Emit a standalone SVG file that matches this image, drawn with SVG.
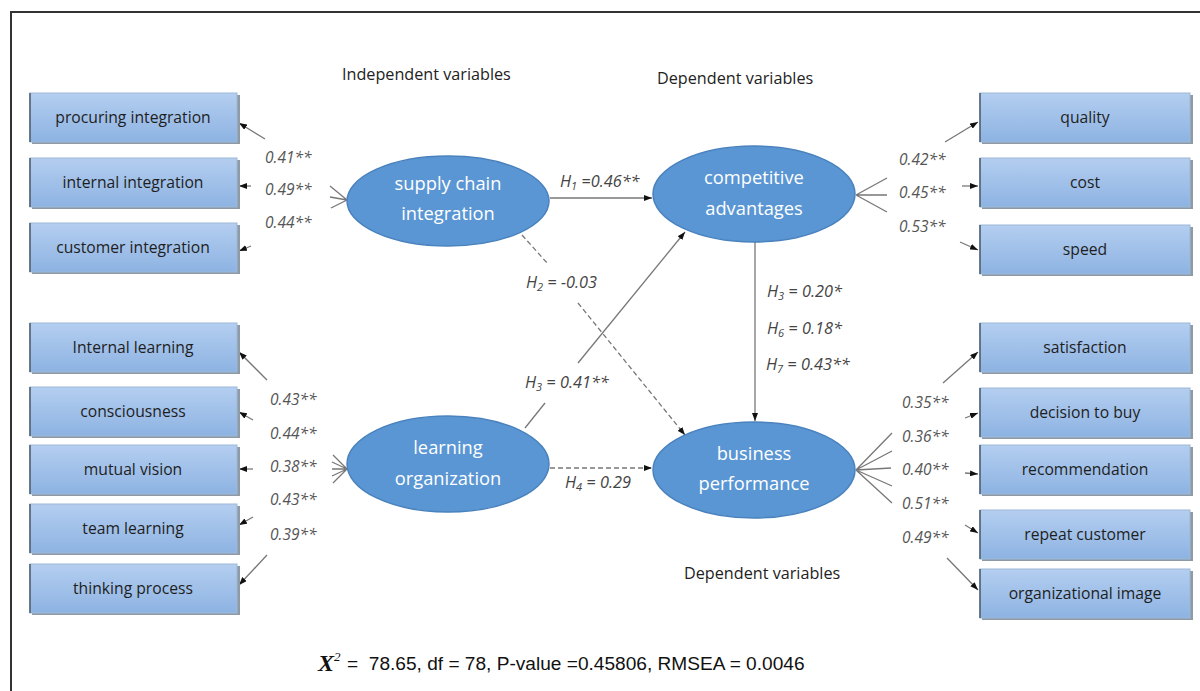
<svg xmlns="http://www.w3.org/2000/svg" width="1200" height="691" viewBox="0 0 1200 691">
<defs>
<linearGradient id="boxg" x1="0" y1="0" x2="0" y2="1">
<stop offset="0" stop-color="#b4cef0"/>
<stop offset="1" stop-color="#8db3e2"/>
</linearGradient>
<marker id="ah" markerUnits="userSpaceOnUse" markerWidth="8" markerHeight="6" refX="8" refY="3" orient="auto">
<path d="M0,0 L8,3 L0,6 z" fill="#111"/>
</marker>
<style>
.box{fill:url(#boxg);stroke:#9db8d8;stroke-width:1}
.edge{stroke:#4a5a6a;stroke-width:1.5}
.shadow{fill:#8e9aa6}
.bt{font-family:"Open Sans","Noto Sans",sans-serif;font-size:15.7px;fill:#1e1e1e;text-anchor:middle}
.ell{fill:#5a96d3;stroke:#4a82bd;stroke-width:1.5}
.et{font-family:"Open Sans","Noto Sans",sans-serif;font-size:18.3px;fill:#ffffff;text-anchor:middle}
.ln{stroke:#777;stroke-width:1.3;fill:none}
.arr{stroke:#777;stroke-width:1.3;fill:none;marker-end:url(#ah)}
.dash{stroke-dasharray:5,3}
.lab{font-family:"Open Sans","Noto Sans",sans-serif;font-size:15.5px;font-style:italic;fill:#555}
.hl{font-family:"Open Sans","Noto Sans",sans-serif;font-size:16.3px;font-style:italic;fill:#444}
.hd{font-family:"Open Sans","Noto Sans",sans-serif;font-size:16.2px;fill:#222}
</style>
</defs>
<rect width="1200" height="691" fill="#ffffff"/>
<path d="M11,691 L11,12 L1200,12" fill="none" stroke="#333" stroke-width="2"/>

<text class="hd" x="342" y="80">Independent variables</text>
<text class="hd" x="657" y="84">Dependent variables</text>
<text class="hd" x="684" y="579">Dependent variables</text>

<g id="connectors">
<path class="ln" d="M347,200 L330,186 M347,200 L330,197 M347,200 L331,208"/>
<path class="arr" d="M265,139 L239,123"/>
<path class="arr" d="M251,186 L239,186"/>
<path class="arr" d="M251,246 L239,251"/>
<path class="ln" d="M347,469 L333,455 M347,469 L332,462 M347,469 L332,469 M347,469 L332,476 M347,469 L333,483"/>
<path class="arr" d="M267,380 L239,352"/>
<path class="arr" d="M253,420 L239,412"/>
<path class="arr" d="M253,469 L239,469"/>
<path class="arr" d="M253,517 L239,525"/>
<path class="arr" d="M267,555 L239,585"/>
<path class="ln" d="M856,195 L887,178 M856,195 L887,195 M856,195 L887,212"/>
<path class="arr" d="M945,142 L978,122"/>
<path class="arr" d="M962,186 L978,186"/>
<path class="arr" d="M960,242 L978,250"/>
<path class="ln" d="M856,470 L892,433 M856,470 L892,451 M856,470 L891,468 M856,470 L892,486 M856,470 L892,503"/>
<path class="arr" d="M943,383 L978,352"/>
<path class="arr" d="M965,418 L978,413"/>
<path class="arr" d="M965,473 L978,474"/>
<path class="arr" d="M965,525 L978,533"/>
<path class="arr" d="M947,558 L978,590"/>
<path class="arr" d="M550,198 L652,198"/>
<path class="ln dash" d="M522,235 L548,264"/>
<path class="arr dash" d="M578,303 L685,435"/>
<path class="ln" d="M525,428 L545,403"/>
<path class="arr" d="M578,363 L685,232"/>
<path class="arr dash" d="M550,468 L652,468"/>
<path class="arr" d="M755,242 L755,421"/>
</g>

<g id="loadings">
<text class="lab" x="265" y="163">0.41**</text>
<text class="lab" x="265" y="195">0.49**</text>
<text class="lab" x="265" y="228">0.44**</text>
<text class="lab" x="270" y="405">0.43**</text>
<text class="lab" x="270" y="439">0.44**</text>
<text class="lab" x="270" y="472">0.38**</text>
<text class="lab" x="270" y="505">0.43**</text>
<text class="lab" x="270" y="540">0.39**</text>
<text class="lab" x="899" y="165">0.42**</text>
<text class="lab" x="899" y="198">0.45**</text>
<text class="lab" x="899" y="232">0.53**</text>
<text class="lab" x="902" y="408">0.35**</text>
<text class="lab" x="902" y="442">0.36**</text>
<text class="lab" x="902" y="475">0.40**</text>
<text class="lab" x="902" y="509">0.51**</text>
<text class="lab" x="902" y="543">0.49**</text>
</g>

<g id="hyp">
<text class="hl" x="560" y="187">H<tspan font-size="11" dy="3">1</tspan><tspan dy="-3"> =0.46**</tspan></text>
<text class="hl" x="526" y="288">H<tspan font-size="11" dy="3">2</tspan><tspan dy="-3"> = -0.03</tspan></text>
<text class="hl" x="525" y="388">H<tspan font-size="11" dy="3">3</tspan><tspan dy="-3"> = 0.41**</tspan></text>
<text class="hl" x="565" y="488">H<tspan font-size="11" dy="3">4</tspan><tspan dy="-3"> = 0.29</tspan></text>
<text class="hl" x="767" y="297">H<tspan font-size="11" dy="3">3</tspan><tspan dy="-3"> = 0.20*</tspan></text>
<text class="hl" x="767" y="334">H<tspan font-size="11" dy="3">6</tspan><tspan dy="-3"> = 0.18*</tspan></text>
<text class="hl" x="766" y="370">H<tspan font-size="11" dy="3">7</tspan><tspan dy="-3"> = 0.43**</tspan></text>
</g>

<g id="n-procuring"><rect class="shadow" x="32" y="95" width="208" height="49"/><rect class="box" x="30" y="93" width="207" height="49"/><line class="edge" x1="30" y1="93" x2="30" y2="142"/><text class="bt" x="133" y="123">procuring integration</text></g>
<g id="n-internal"><rect class="shadow" x="32" y="160" width="208" height="49"/><rect class="box" x="30" y="158" width="207" height="49"/><line class="edge" x1="30" y1="158" x2="30" y2="207"/><text class="bt" x="133" y="188">internal integration</text></g>
<g id="n-customer"><rect class="shadow" x="32" y="225" width="208" height="49"/><rect class="box" x="30" y="223" width="207" height="49"/><line class="edge" x1="30" y1="223" x2="30" y2="272"/><text class="bt" x="133" y="253">customer integration</text></g>
<g id="n-internal-learning"><rect class="shadow" x="32" y="325" width="208" height="49"/><rect class="box" x="30" y="323" width="207" height="49"/><line class="edge" x1="30" y1="323" x2="30" y2="372"/><text class="bt" x="133" y="353">Internal learning</text></g>
<g id="n-consciousness"><rect class="shadow" x="32" y="389" width="208" height="49"/><rect class="box" x="30" y="387" width="207" height="49"/><line class="edge" x1="30" y1="387" x2="30" y2="436"/><text class="bt" x="133" y="417">consciousness</text></g>
<g id="n-mutual"><rect class="shadow" x="32" y="447" width="208" height="49"/><rect class="box" x="30" y="445" width="207" height="49"/><line class="edge" x1="30" y1="445" x2="30" y2="494"/><text class="bt" x="133" y="475">mutual vision</text></g>
<g id="n-team"><rect class="shadow" x="32" y="506" width="208" height="49"/><rect class="box" x="30" y="504" width="207" height="49"/><line class="edge" x1="30" y1="504" x2="30" y2="553"/><text class="bt" x="133" y="534">team learning</text></g>
<g id="n-thinking"><rect class="shadow" x="32" y="566" width="208" height="49"/><rect class="box" x="30" y="564" width="207" height="49"/><line class="edge" x1="30" y1="564" x2="30" y2="613"/><text class="bt" x="133" y="594">thinking process</text></g>

<g id="n-quality"><rect class="shadow" x="982" y="95" width="211" height="49"/><rect class="box" x="980" y="93" width="210" height="49"/><line class="edge" x1="980" y1="93" x2="980" y2="142"/><text class="bt" x="1085" y="123">quality</text></g>
<g id="n-cost"><rect class="shadow" x="982" y="160" width="211" height="49"/><rect class="box" x="980" y="158" width="210" height="49"/><line class="edge" x1="980" y1="158" x2="980" y2="207"/><text class="bt" x="1085" y="188">cost</text></g>
<g id="n-speed"><rect class="shadow" x="982" y="227" width="211" height="49"/><rect class="box" x="980" y="225" width="210" height="49"/><line class="edge" x1="980" y1="225" x2="980" y2="274"/><text class="bt" x="1085" y="255">speed</text></g>
<g id="n-satisfaction"><rect class="shadow" x="982" y="325" width="211" height="49"/><rect class="box" x="980" y="323" width="210" height="49"/><line class="edge" x1="980" y1="323" x2="980" y2="372"/><text class="bt" x="1085" y="353">satisfaction</text></g>
<g id="n-decision"><rect class="shadow" x="982" y="390" width="211" height="49"/><rect class="box" x="980" y="388" width="210" height="49"/><line class="edge" x1="980" y1="388" x2="980" y2="437"/><text class="bt" x="1085" y="418">decision to buy</text></g>
<g id="n-recommendation"><rect class="shadow" x="982" y="447" width="211" height="49"/><rect class="box" x="980" y="445" width="210" height="49"/><line class="edge" x1="980" y1="445" x2="980" y2="494"/><text class="bt" x="1085" y="475">recommendation</text></g>
<g id="n-repeat"><rect class="shadow" x="982" y="512" width="211" height="49"/><rect class="box" x="980" y="510" width="210" height="49"/><line class="edge" x1="980" y1="510" x2="980" y2="559"/><text class="bt" x="1085" y="540">repeat customer</text></g>
<g id="n-image"><rect class="shadow" x="982" y="571" width="211" height="49"/><rect class="box" x="980" y="569" width="210" height="49"/><line class="edge" x1="980" y1="569" x2="980" y2="618"/><text class="bt" x="1085" y="599">organizational image</text></g>

<g id="n-sci"><ellipse class="ell" cx="448" cy="201" rx="101" ry="45"/><text class="et" x="448" y="190">supply chain</text><text class="et" x="448" y="220">integration</text></g>
<g id="n-ca"><ellipse class="ell" cx="754" cy="194" rx="101" ry="48"/><text class="et" x="754" y="184">competitive</text><text class="et" x="754" y="215">advantages</text></g>
<g id="n-lo"><ellipse class="ell" cx="448" cy="464" rx="101" ry="48"/><text class="et" x="448" y="454">learning</text><text class="et" x="448" y="485">organization</text></g>
<g id="n-bp"><ellipse class="ell" cx="754" cy="470" rx="101" ry="48"/><text class="et" x="754" y="460">business</text><text class="et" x="754" y="490">performance</text></g>

<g id="fit">
<text x="318" y="671" font-family="Liberation Serif,serif" font-size="24" font-style="italic" font-weight="bold" fill="#111">X<tspan font-size="13" dy="-10" font-weight="normal">2</tspan></text>
<text x="347" y="670" font-family="Liberation Sans,Arial,sans-serif" font-size="19.1" fill="#111" xml:space="preserve">=  78.65, df = 78, P-value =0.45806, RMSEA = 0.0046</text>
</g>
</svg>
